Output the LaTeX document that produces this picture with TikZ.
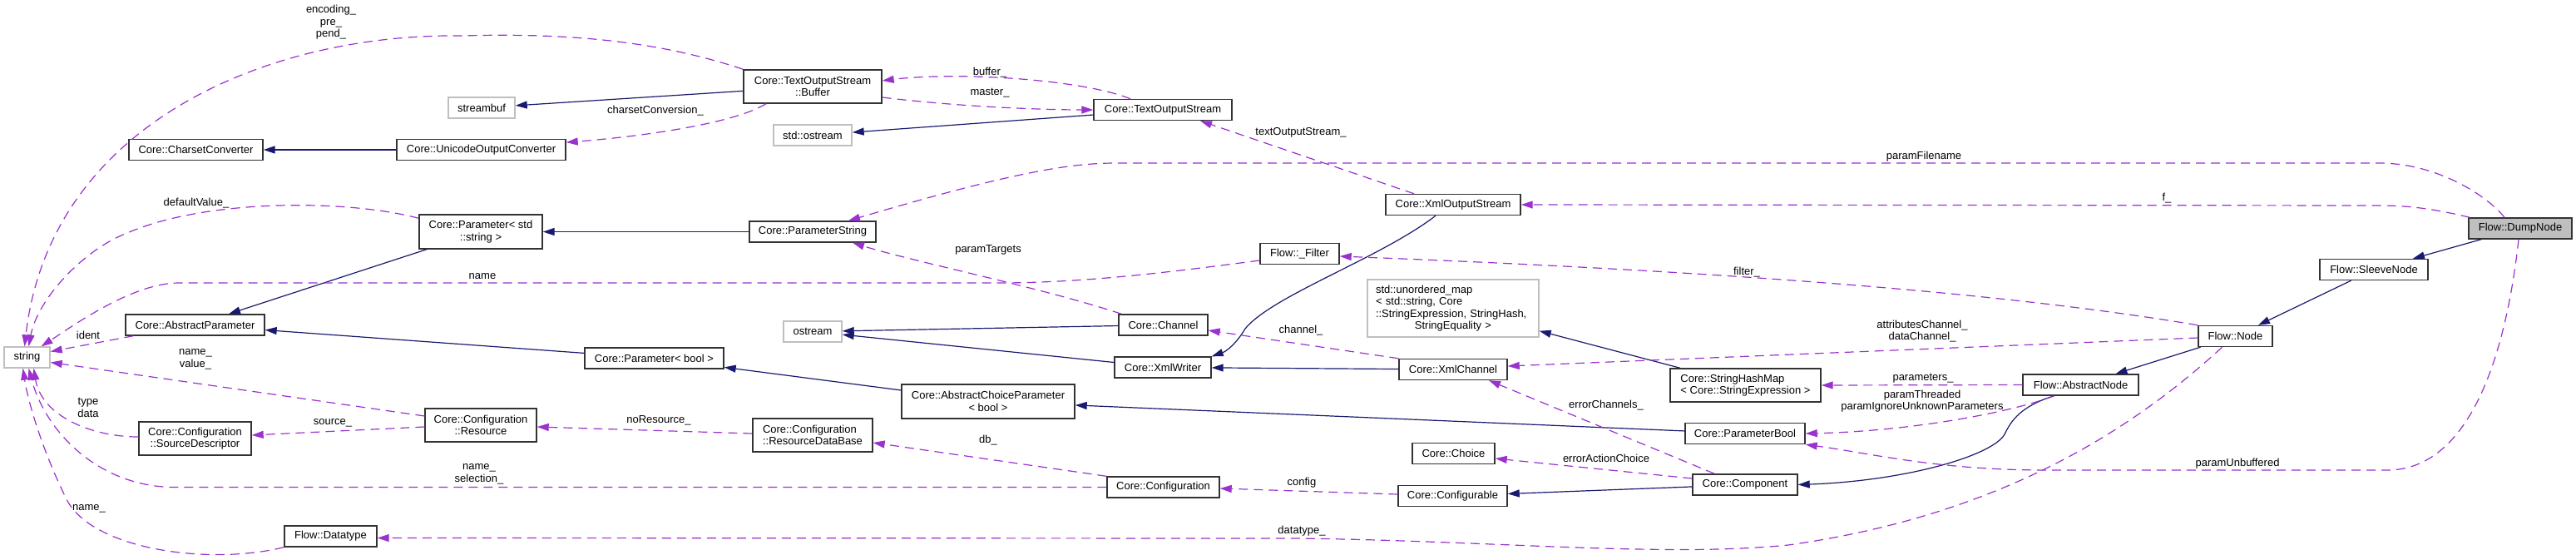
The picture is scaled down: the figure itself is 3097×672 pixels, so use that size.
\documentclass[tikz,border=0pt]{standalone}
\usepackage{fontspec}
\setmainfont{Liberation Sans}
\usetikzlibrary{arrows.meta, positioning}
\definecolor{doxNavy}{HTML}{191970}
\definecolor{doxOrchid}{HTML}{9A32CD}
\definecolor{doxGray}{HTML}{BFBFBF}
\definecolor{doxBorder}{HTML}{333333}

\begin{document}
\begin{tikzpicture}[
    x=1pt, y=-1pt,
    cls/.style={
        draw=doxBorder, line width=1.4pt, fill=white, minimum height=25pt,
        inner sep=2pt, font=\fontsize{13}{14.5}\selectfont, anchor=center,
        align=center
    },
    ext/.style={cls, draw=doxGray},
    focus/.style={cls, fill=doxGray},
    inh/.style={
        draw=doxNavy, line width=1.2pt,
        -{Triangle[length=14pt,width=9pt]}
    },
    use/.style={
        draw=doxOrchid, line width=1.2pt, dash pattern=on 11pt off 7pt,
        -{Triangle[length=14pt,width=9pt]}
    },
    lbl/.style={font=\fontsize{13}{14.5}\selectfont, inner sep=0pt, align=center}
]
\useasboundingbox (0,0) rectangle (3097,672);

% === Classes ===
% Column 1
\node[ext, minimum width=55pt] (str) at (32.5,429.5) {string};
% Column 2
\node[cls, minimum width=161pt] (csc) at (235.5,180) {Core::CharsetConverter};
\node[cls, minimum width=167pt] (aparam) at (234.5,390.5) {Core::AbstractParameter};
\node[cls, minimum width=135pt, minimum height=40pt] (srcd) at (234.5,527) {Core::Configuration\\::SourceDescriptor};
% Column 3
\node[ext, minimum width=80pt] (sbuf) at (579,129.5) {streambuf};
\node[cls, minimum width=203pt] (uoc) at (578.5,180) {Core::UnicodeOutputConverter};
\node[cls, minimum width=148pt, minimum height=41pt] (pstd) at (578,278.5) {Core::Parameter< std\\::string >};
\node[cls, minimum width=134pt, minimum height=40pt] (res) at (578,511) {Core::Configuration\\::Resource};
\node[cls, minimum width=111pt] (dtype) at (397.5,644.5) {Flow::Datatype};
% Column 4
\node[cls, minimum width=167pt] (pbl) at (786.5,430.5) {Core::Parameter< bool >};
% Column 5
\node[cls, minimum width=166pt, minimum height=40pt] (tbuf) at (977,104) {Core::TextOutputStream\\::Buffer};
\node[ext, minimum width=94pt] (sostr) at (977,162.5) {std::ostream};
\node[cls, minimum width=152pt] (pstr) at (977,278.5) {Core::ParameterString};
\node[ext, minimum width=70pt] (ostr) at (977,398.5) {ostream};
\node[cls, minimum width=144pt, minimum height=40pt, align=left] (rdb) at (977,523) {Core::Configuration\\::ResourceDataBase};
% Column 6
\node[cls, minimum width=208pt, minimum height=41pt] (acp) at (1188,482.5) {Core::AbstractChoiceParameter\\< bool >};
% Column 7
\node[cls, minimum width=166pt] (tos) at (1398,132) {Core::TextOutputStream};
\node[cls, minimum width=107pt] (chan) at (1398.5,390.5) {Core::Channel};
\node[cls, minimum width=116pt] (xw) at (1398,441.5) {Core::XmlWriter};
\node[cls, minimum width=135pt] (conf) at (1398.5,585.5) {Core::Configuration};
% Column 8
\node[cls, minimum width=95pt] (filt) at (1562.5,305) {Flow::\_Filter};
% Column 9
\node[cls, minimum width=162pt] (xos) at (1747,246) {Core::XmlOutputStream};
\node[ext, minimum height=69pt, text width=186pt, inner xsep=10pt, align=left] (umap) at (1747,370.5)
    {std::unordered\_map\\< std::string, Core\\::StringExpression, StringHash,\\\makebox[\linewidth]{StringEquality >}};
\node[cls, minimum width=130pt] (xch) at (1747,444) {Core::XmlChannel};
\node[cls, minimum width=99pt] (choice) at (1747.5,545) {Core::Choice};
\node[cls, minimum width=131pt] (cfgb) at (1746.5,596) {Core::Configurable};
% Column 10
\node[cls, minimum width=181pt, minimum height=40pt, align=left] (shm) at (2098.5,463) {Core::StringHashMap\\< Core::StringExpression >};
\node[cls, minimum width=144pt] (pbool) at (2098,521) {Core::ParameterBool};
\node[cls, minimum width=126pt] (comp) at (2098,582.5) {Core::Component};
% Flow nodes
\node[cls, minimum width=139pt] (anode) at (2501.5,462.5) {Flow::AbstractNode};
\node[cls, minimum width=89pt] (fnode) at (2687.5,404) {Flow::Node};
\node[cls, minimum width=130pt] (sleeve) at (2854,324) {Flow::SleeveNode};
\node[focus, minimum width=124pt] (dump) at (3030,274.5) {Flow::DumpNode};

% === Inheritance ===
\draw[inh] (tbuf) -- (sbuf);
\draw[inh] (uoc) -- (csc);
\draw[inh] (tos) -- (sostr);
\draw[inh] (pstr) -- (pstd);
\draw[inh] (pstd) -- (aparam);
\draw[inh] (pbl) -- (aparam);
\draw[inh] (chan) -- (ostr);
\draw[inh] (xw) -- (ostr);
\draw[inh] ([xshift=-21pt]xos.south) .. controls (1660,310) and (1530,355) .. (1497,395)
    .. controls (1487,412) and (1475,422) .. (xw.north east);
\draw[inh] (xch) -- (xw);
\draw[inh] (acp) -- (pbl);
\draw[inh] (pbool) -- (acp);
\draw[inh] (shm) -- (umap);
\draw[inh] (comp) -- (cfgb);
\draw[inh] ([xshift=-32pt]anode.south) .. controls (2430,488) and (2418,505) .. (2410,522)
    .. controls (2395,548) and (2290,578) .. (comp.east);
\draw[inh] (fnode) -- (anode);
\draw[inh] (sleeve) -- (fnode);
\draw[inh] (dump) -- (sleeve);

% === Usage ===
\draw[use] (tbuf.north west) .. controls (780,45) and (660,40) .. (555,43)
    .. controls (320,40) and (60,150) .. ([xshift=-3pt]str.north);
\draw[use] ([xshift=-56pt]tbuf.south) .. controls (880,150) and (760,165) .. (uoc.5);
\draw[use] ([xshift=-39pt]tos.north) .. controls (1300,95) and (1150,86) .. ([yshift=7pt]tbuf.east);
\draw[use] ([yshift=-13pt]tbuf.east) .. controls (1150,128) and (1250,132) .. (tos.west);
\draw[use] ([xshift=-47pt]xos.north) -- ([xshift=45pt]tos.south);
\draw[use] ([xshift=-19pt]dump.north) .. controls (2990,235) and (2930,196) .. (2860,196) -- (1340,196)
    .. controls (1280,196) and (1200,212) .. ([xshift=43pt]pstr.north);
\draw[use] ([xshift=2pt]dump.north west) .. controls (2930,252) and (2900,247) .. (2860,247) -- (xos.east);
\draw[use] ([yshift=-5pt]pstd.north west) .. controls (420,240) and (250,238) .. (153,280)
    .. controls (100,300) and (45,360) .. ([xshift=2pt]str.north);
\draw[use] ([xshift=4pt]chan.north west) .. controls (1250,345) and (1100,315) .. ([xshift=48pt]pstr.south);
\draw[use] ([yshift=-8pt]filt.west) .. controls (1400,328) and (1300,340) .. (1200,340) -- (215,340)
    .. controls (160,340) and (90,390) .. ([xshift=17pt]str.north);
\draw[use] ([xshift=10pt]aparam.south west) -- ([yshift=7pt]str.east);
\draw[use] ([yshift=11pt]res.west) -- ([yshift=-6pt]str.east);
\draw[use] ([yshift=2pt]srcd.west) .. controls (110,525) and (50,500) .. ([xshift=8pt]str.south);
\draw[use] ([yshift=-2pt]res.west) -- ([yshift=4pt]srcd.east);
\draw[use] ([yshift=2pt]rdb.west) -- ([yshift=-2pt]res.east);
\draw[use] (conf.north west) -- ([yshift=-9pt]rdb.east);
\draw[use] (conf.west) -- (210,585.5) .. controls (120,585.5) and (55,520) .. ([xshift=2pt]str.south);
\draw[use] (dtype.south west) .. controls (250,680) and (110,660) .. (80,600)
    .. controls (55,550) and (35,490) .. ([xshift=-5pt]str.south);
\draw[use] ([xshift=-16pt]fnode.south) .. controls (2560,520) and (2400,620) .. (2150,655)
    .. controls (2000,670) and (1800,650) .. (1560,647) -- ([yshift=-2pt]dtype.east);
\draw[use] (xch.north west) -- ([yshift=-6.5pt]chan.east);
\draw[use] ([yshift=-2pt]fnode.west) -- ([yshift=4pt]xch.east);
\draw[use] (fnode.north west) .. controls (2400,350) and (2050,325) .. ([yshift=-3pt]filt.east);
\draw[use] (anode.west) -- (shm.east);
\draw[use] ([xshift=-32pt]anode.south) .. controls (2420,495) and (2300,518) .. (pbool.east);
\draw[use] ([xshift=-2pt]dump.south) .. controls (3010,450) and (2960,565) .. (2870,565) -- (2460,565)
    .. controls (2330,565) and (2250,545) .. (pbool.south east);
\draw[use] ([xshift=27pt]comp.north west) -- ([xshift=43pt]xch.south);
\draw[use] ([yshift=7.5pt]comp.west) -- ([yshift=-6pt]choice.east);
\draw[use] ([yshift=2pt]cfgb.west) -- ([yshift=-1.5pt]conf.east);

% === Member labels ===
\node[lbl] (lEnc) at (398,27) {encoding\_\\pre\_\\pend\_};
\node[lbl] (lCharset) at (788,133) {charsetConversion\_};
\node[lbl] (lBuffer) at (1190,87) {buffer\_};
\node[lbl] (lMaster) at (1190,112) {master\_};
\node[lbl] (lTos) at (1564,159) {textOutputStream\_};
\node[lbl] (lFilename) at (2313,188) {paramFilename};
\node[lbl] (lF) at (2605,238) {f\_};
\node[lbl] (lDefault) at (236,244) {defaultValue\_};
\node[lbl] (lTargets) at (1188,300) {paramTargets};
\node[lbl] (lName) at (580,332) {name};
\node[lbl] (lIdent) at (106,403) {ident};
\node[lbl] (lNameValue) at (235,432) {name\_\\value\_};
\node[lbl] (lTypeData) at (106,490) {type\\data};
\node[lbl] (lSource) at (400,508) {source\_};
\node[lbl] (lNoRes) at (792,505) {noResource\_};
\node[lbl] (lDb) at (1188,529) {db\_};
\node[lbl] (lNameSel) at (576,570) {name\_\\selection\_};
\node[lbl] (lDtName) at (107,611) {name\_};
\node[lbl] (lDatatype) at (1565,638) {datatype\_};
\node[lbl] (lChannel) at (1564,397) {channel\_};
\node[lbl] (lAttr) at (2311,398) {attributesChannel\_\\dataChannel\_};
\node[lbl] (lFilter) at (2100,327) {filter\_};
\node[lbl] (lParams) at (2312,455) {parameters\_};
\node[lbl] (lThreaded) at (2311,482) {paramThreaded\\paramIgnoreUnknownParameters};
\node[lbl] (lUnbuf) at (2690,557) {paramUnbuffered};
\node[lbl] (lErrCh) at (1931,487) {errorChannels\_};
\node[lbl] (lErrAct) at (1931,551) {errorActionChoice};
\node[lbl] (lConfig) at (1565,580) {config};

\end{tikzpicture}
\end{document}
